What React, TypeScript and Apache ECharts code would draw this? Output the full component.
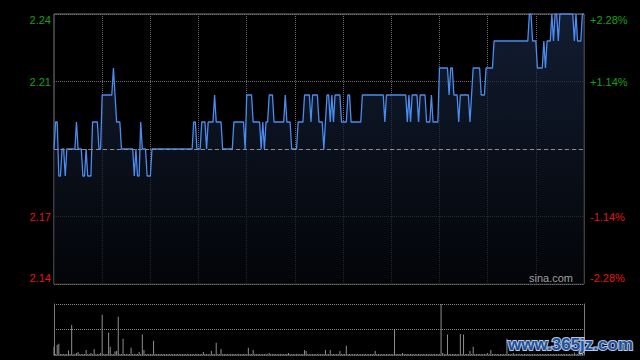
import React, { useEffect, useRef } from 'react';
import * as echarts from 'echarts';

const prevClose = 2.19;

// one value per trading minute (09:30-12:00, 13:00-16:00)
const prices = [
  2.19, 2.20, 2.20, 2.18, 2.18, 2.19, 2.19, 2.18, 2.19, 2.19,
  2.19, 2.19, 2.19, 2.19, 2.20, 2.19, 2.19, 2.19, 2.18, 2.18,
  2.19, 2.18, 2.18, 2.18, 2.20, 2.20, 2.20, 2.20, 2.19, 2.19,
  2.21, 2.21, 2.21, 2.21, 2.21, 2.21, 2.21, 2.22, 2.21, 2.20,
  2.20, 2.20, 2.19, 2.19, 2.19, 2.19, 2.19, 2.19, 2.19, 2.19,
  2.18, 2.19, 2.18, 2.18, 2.20, 2.19, 2.19, 2.19, 2.18, 2.18,
  2.18, 2.19, 2.19, 2.19, 2.19, 2.19, 2.19, 2.19, 2.19, 2.19,
  2.19, 2.19, 2.19, 2.19, 2.19, 2.19, 2.19, 2.19, 2.19, 2.19,
  2.19, 2.19, 2.19, 2.19, 2.19, 2.19, 2.19, 2.20, 2.20, 2.19,
  2.19, 2.19, 2.20, 2.20, 2.20, 2.19, 2.20, 2.20, 2.20, 2.20,
  2.21, 2.20, 2.20, 2.20, 2.20, 2.19, 2.19, 2.19, 2.19, 2.19,
  2.19, 2.19, 2.20, 2.20, 2.20, 2.20, 2.20, 2.20, 2.20, 2.19,
  2.21, 2.21, 2.21, 2.21, 2.20, 2.20, 2.20, 2.20, 2.20, 2.19,
  2.20, 2.19, 2.20, 2.20, 2.21, 2.21, 2.21, 2.20, 2.20, 2.20,
  2.20, 2.20, 2.20, 2.20, 2.21, 2.20, 2.20, 2.20, 2.19, 2.19,
  2.19, 2.19, 2.20, 2.20, 2.20, 2.20, 2.21, 2.21, 2.21, 2.21,
  2.20, 2.21, 2.21, 2.21, 2.21, 2.20, 2.20, 2.20, 2.19, 2.20,
  2.21, 2.21, 2.20, 2.21, 2.20, 2.21, 2.21, 2.21, 2.21, 2.20,
  2.20, 2.20, 2.20, 2.21, 2.21, 2.20, 2.20, 2.20, 2.20, 2.20,
  2.20, 2.20, 2.21, 2.21, 2.21, 2.21, 2.21, 2.21, 2.21, 2.21,
  2.21, 2.21, 2.21, 2.21, 2.21, 2.21, 2.20, 2.21, 2.21, 2.21,
  2.21, 2.21, 2.21, 2.21, 2.21, 2.21, 2.21, 2.21, 2.21, 2.21,
  2.20, 2.21, 2.20, 2.21, 2.21, 2.21, 2.21, 2.20, 2.21, 2.21,
  2.21, 2.21, 2.20, 2.20, 2.20, 2.21, 2.20, 2.20, 2.20, 2.20,
  2.22, 2.22, 2.22, 2.22, 2.22, 2.22, 2.21, 2.22, 2.22, 2.21,
  2.21, 2.21, 2.20, 2.21, 2.21, 2.21, 2.21, 2.21, 2.21, 2.20,
  2.21, 2.22, 2.22, 2.22, 2.22, 2.22, 2.21, 2.21, 2.21, 2.22,
  2.22, 2.22, 2.22, 2.22, 2.23, 2.23, 2.23, 2.23, 2.23, 2.23,
  2.23, 2.23, 2.23, 2.23, 2.23, 2.23, 2.23, 2.23, 2.23, 2.23,
  2.23, 2.23, 2.23, 2.23, 2.23, 2.23, 2.24, 2.24, 2.23, 2.23,
  2.23, 2.22, 2.22, 2.22, 2.22, 2.23, 2.22, 2.23, 2.23, 2.23,
  2.24, 2.23, 2.24, 2.24, 2.23, 2.24, 2.24, 2.24, 2.24, 2.24,
  2.24, 2.24, 2.24, 2.24, 2.23, 2.24, 2.23, 2.23, 2.23, 2.24,
  2.24,
];

// volume per minute, relative units (panel top = 100)
const volumes = [
  16, 2, 20, 22, 2, 2, 2, 2, 2, 9,
  2, 59, 2, 2, 4, 6, 2, 2, 2, 2,
  10, 2, 2, 4, 2, 12, 2, 2, 2, 4,
  79, 2, 2, 2, 44, 16, 2, 2, 7, 8,
  75, 2, 2, 32, 2, 2, 2, 2, 14, 2,
  2, 2, 2, 6, 2, 40, 10, 2, 2, 2,
  2, 2, 28, 2, 2, 2, 2, 2, 2, 2,
  2, 2, 2, 2, 2, 2, 2, 2, 2, 2,
  2, 2, 2, 2, 2, 2, 2, 2, 2, 2,
  2, 2, 2, 6, 2, 2, 2, 2, 8, 2,
  2, 24, 2, 2, 12, 2, 2, 2, 2, 2,
  2, 2, 2, 2, 2, 2, 2, 2, 2, 2,
  2, 14, 2, 2, 10, 2, 2, 2, 2, 2,
  2, 2, 2, 2, 4, 2, 2, 2, 2, 2,
  2, 2, 2, 2, 2, 2, 4, 2, 2, 2,
  2, 2, 2, 2, 2, 2, 10, 8, 2, 2,
  2, 2, 2, 2, 2, 2, 2, 2, 2, 10,
  2, 2, 10, 2, 2, 2, 2, 2, 8, 2,
  2, 2, 18, 2, 2, 2, 2, 2, 2, 2,
  2, 2, 2, 2, 2, 2, 2, 2, 2, 2,
  8, 2, 2, 2, 2, 2, 2, 2, 2, 2,
  2, 2, 51, 2, 2, 2, 2, 4, 2, 2,
  2, 2, 2, 2, 2, 2, 2, 2, 2, 2,
  2, 2, 2, 2, 2, 2, 2, 2, 2, 2,
  2, 100, 4, 2, 2, 40, 2, 2, 2, 2,
  2, 2, 2, 41, 2, 40, 2, 2, 2, 8,
  2, 16, 2, 2, 2, 2, 2, 2, 2, 2,
  4, 2, 10, 2, 2, 2, 2, 2, 2, 2,
  2, 2, 32, 2, 2, 2, 4, 2, 2, 2,
  2, 2, 2, 2, 2, 2, 2, 2, 2, 2,
  2, 2, 2, 2, 2, 2, 2, 2, 2, 2,
  2, 2, 2, 2, 2, 2, 2, 2, 2, 2,
  2, 2, 2, 2, 5, 2, 2, 6, 2, 2,
  2,
];

const priceMin = 2.14;
const priceMax = 2.24;
const priceStep = 0.025;
const leftTickLabels = ['2.14', '2.17', '', '2.21', '2.24'];
const rightTickLabels = ['-2.28%', '-1.14%', '', '+1.14%', '+2.28%'];
const minutes = prices.map((_, i) => String(i));

const GREEN = '#15a015';
const RED = '#e41414';
const FONT = 'Arial, "Liberation Sans", sans-serif';

const rich = {
  gT: { color: GREEN, fontSize: 11, fontFamily: FONT, padding: [12, 0, 0, 0] },
  g: { color: GREEN, fontSize: 11, fontFamily: FONT },
  r: { color: RED, fontSize: 11, fontFamily: FONT },
  rB: { color: RED, fontSize: 11, fontFamily: FONT, padding: [0, 0, 12, 0] },
};

function tagLabel(labels: string[]) {
  return (_v: number, i: number) => {
    const s = labels[i];
    if (!s) return '';
    const style = i >= 3 ? 'g' : 'r';
    const pos = i === labels.length - 1 ? 'T' : i === 0 ? 'B' : '';
    return `{${style}${pos}|${s}}`;
  };
}

export default function App() {
  const ref = useRef<HTMLDivElement>(null);
  useEffect(() => {
    const chart = echarts.init(ref.current!, undefined, { renderer: 'svg' });
    chart.setOption({
      animation: false,
      backgroundColor: '#000',
      grid: [
        { left: 54, right: 56, top: 14, bottom: 76, show: true, borderColor: '#7c7c7c', borderWidth: 1, backgroundColor: 'transparent' },
        { left: 54, right: 56, top: 304, bottom: 5 },
      ],
      xAxis: [
        {
          type: 'category', gridIndex: 0, data: minutes, boundaryGap: false,
          axisLine: { show: false }, axisTick: { show: false }, axisLabel: { show: false },
          splitLine: { show: true, interval: (i: number) => i % 30 === 0 && i > 0 && i < 330, lineStyle: { color: '#6a6a6a', type: [1, 1], width: 1 } },
        },
        {
          type: 'category', gridIndex: 1, data: minutes, boundaryGap: false,
          axisLine: { show: true, lineStyle: { color: '#6a6a6a', type: [1, 1] } },
          axisTick: { show: false }, axisLabel: { show: false }, splitLine: { show: false },
        },
      ],
      yAxis: [
        {
          type: 'value', gridIndex: 0, position: 'left', min: priceMin, max: priceMax, interval: priceStep,
          axisLine: { show: false }, axisTick: { show: false },
          splitLine: { show: true, lineStyle: { color: '#6a6a6a', type: [1, 1], width: 1 } },
          axisLabel: { show: true, margin: 3, showMinLabel: true, showMaxLabel: true, formatter: tagLabel(leftTickLabels), rich },
        },
        {
          type: 'value', gridIndex: 0, position: 'right', min: priceMin, max: priceMax, interval: priceStep,
          axisLine: { show: false }, axisTick: { show: false }, splitLine: { show: false },
          axisLabel: { show: true, margin: 6, showMinLabel: true, showMaxLabel: true, formatter: tagLabel(rightTickLabels), rich },
        },
        {
          type: 'value', gridIndex: 1, position: 'left', min: 0, max: 100, interval: 50,
          axisLine: { show: true, lineStyle: { color: '#7c7c7c' } }, axisTick: { show: false }, axisLabel: { show: false },
          splitLine: { show: true, lineStyle: { color: '#8a8a8a', type: [1, 1] } },
        },
        {
          type: 'value', gridIndex: 1, position: 'right', min: 0, max: 100, interval: 50,
          axisLine: { show: true, lineStyle: { color: '#7c7c7c' } }, axisTick: { show: false }, axisLabel: { show: false },
          splitLine: { show: false },
        },
      ],
      series: [
        {
          type: 'line', xAxisIndex: 0, yAxisIndex: 0, data: prices, showSymbol: false, symbol: 'none',
          lineStyle: { color: '#4a8cf0', width: 1.3 },
          areaStyle: {
            origin: 'start',
            color: new echarts.graphic.LinearGradient(0, 0, 0, 1, [
              { offset: 0, color: '#1a2946' },
              { offset: 1, color: '#04060a' },
            ]),
          },
          markLine: {
            silent: true, symbol: 'none', label: { show: false },
            lineStyle: { color: '#8c8c8c', type: [4, 3], width: 1 },
            data: [{ yAxis: prevClose }],
          },
          z: 3,
        },
        {
          type: 'bar', xAxisIndex: 1, yAxisIndex: 2, data: volumes, barWidth: 1,
          itemStyle: { color: '#8f8f8f' },
        },
      ],
      graphic: [
        {
          type: 'text', right: 67, top: 272, z: 10,
          style: { text: 'sina.com', fill: '#a0a0a0', font: `11px ${FONT}` },
        },
        {
          type: 'text', right: 6, top: 335, z: 10,
          style: { text: 'www.365jz.com', fill: '#21509a', stroke: '#b4c6e0', lineWidth: 2, font: `bold 17px ${FONT}` },
        },
      ],
    });
    return () => chart.dispose();
  }, []);
  return <div ref={ref} style={{ position: 'fixed', left: 0, top: 0, width: 640, height: 360, background: '#000' }} />;
}
